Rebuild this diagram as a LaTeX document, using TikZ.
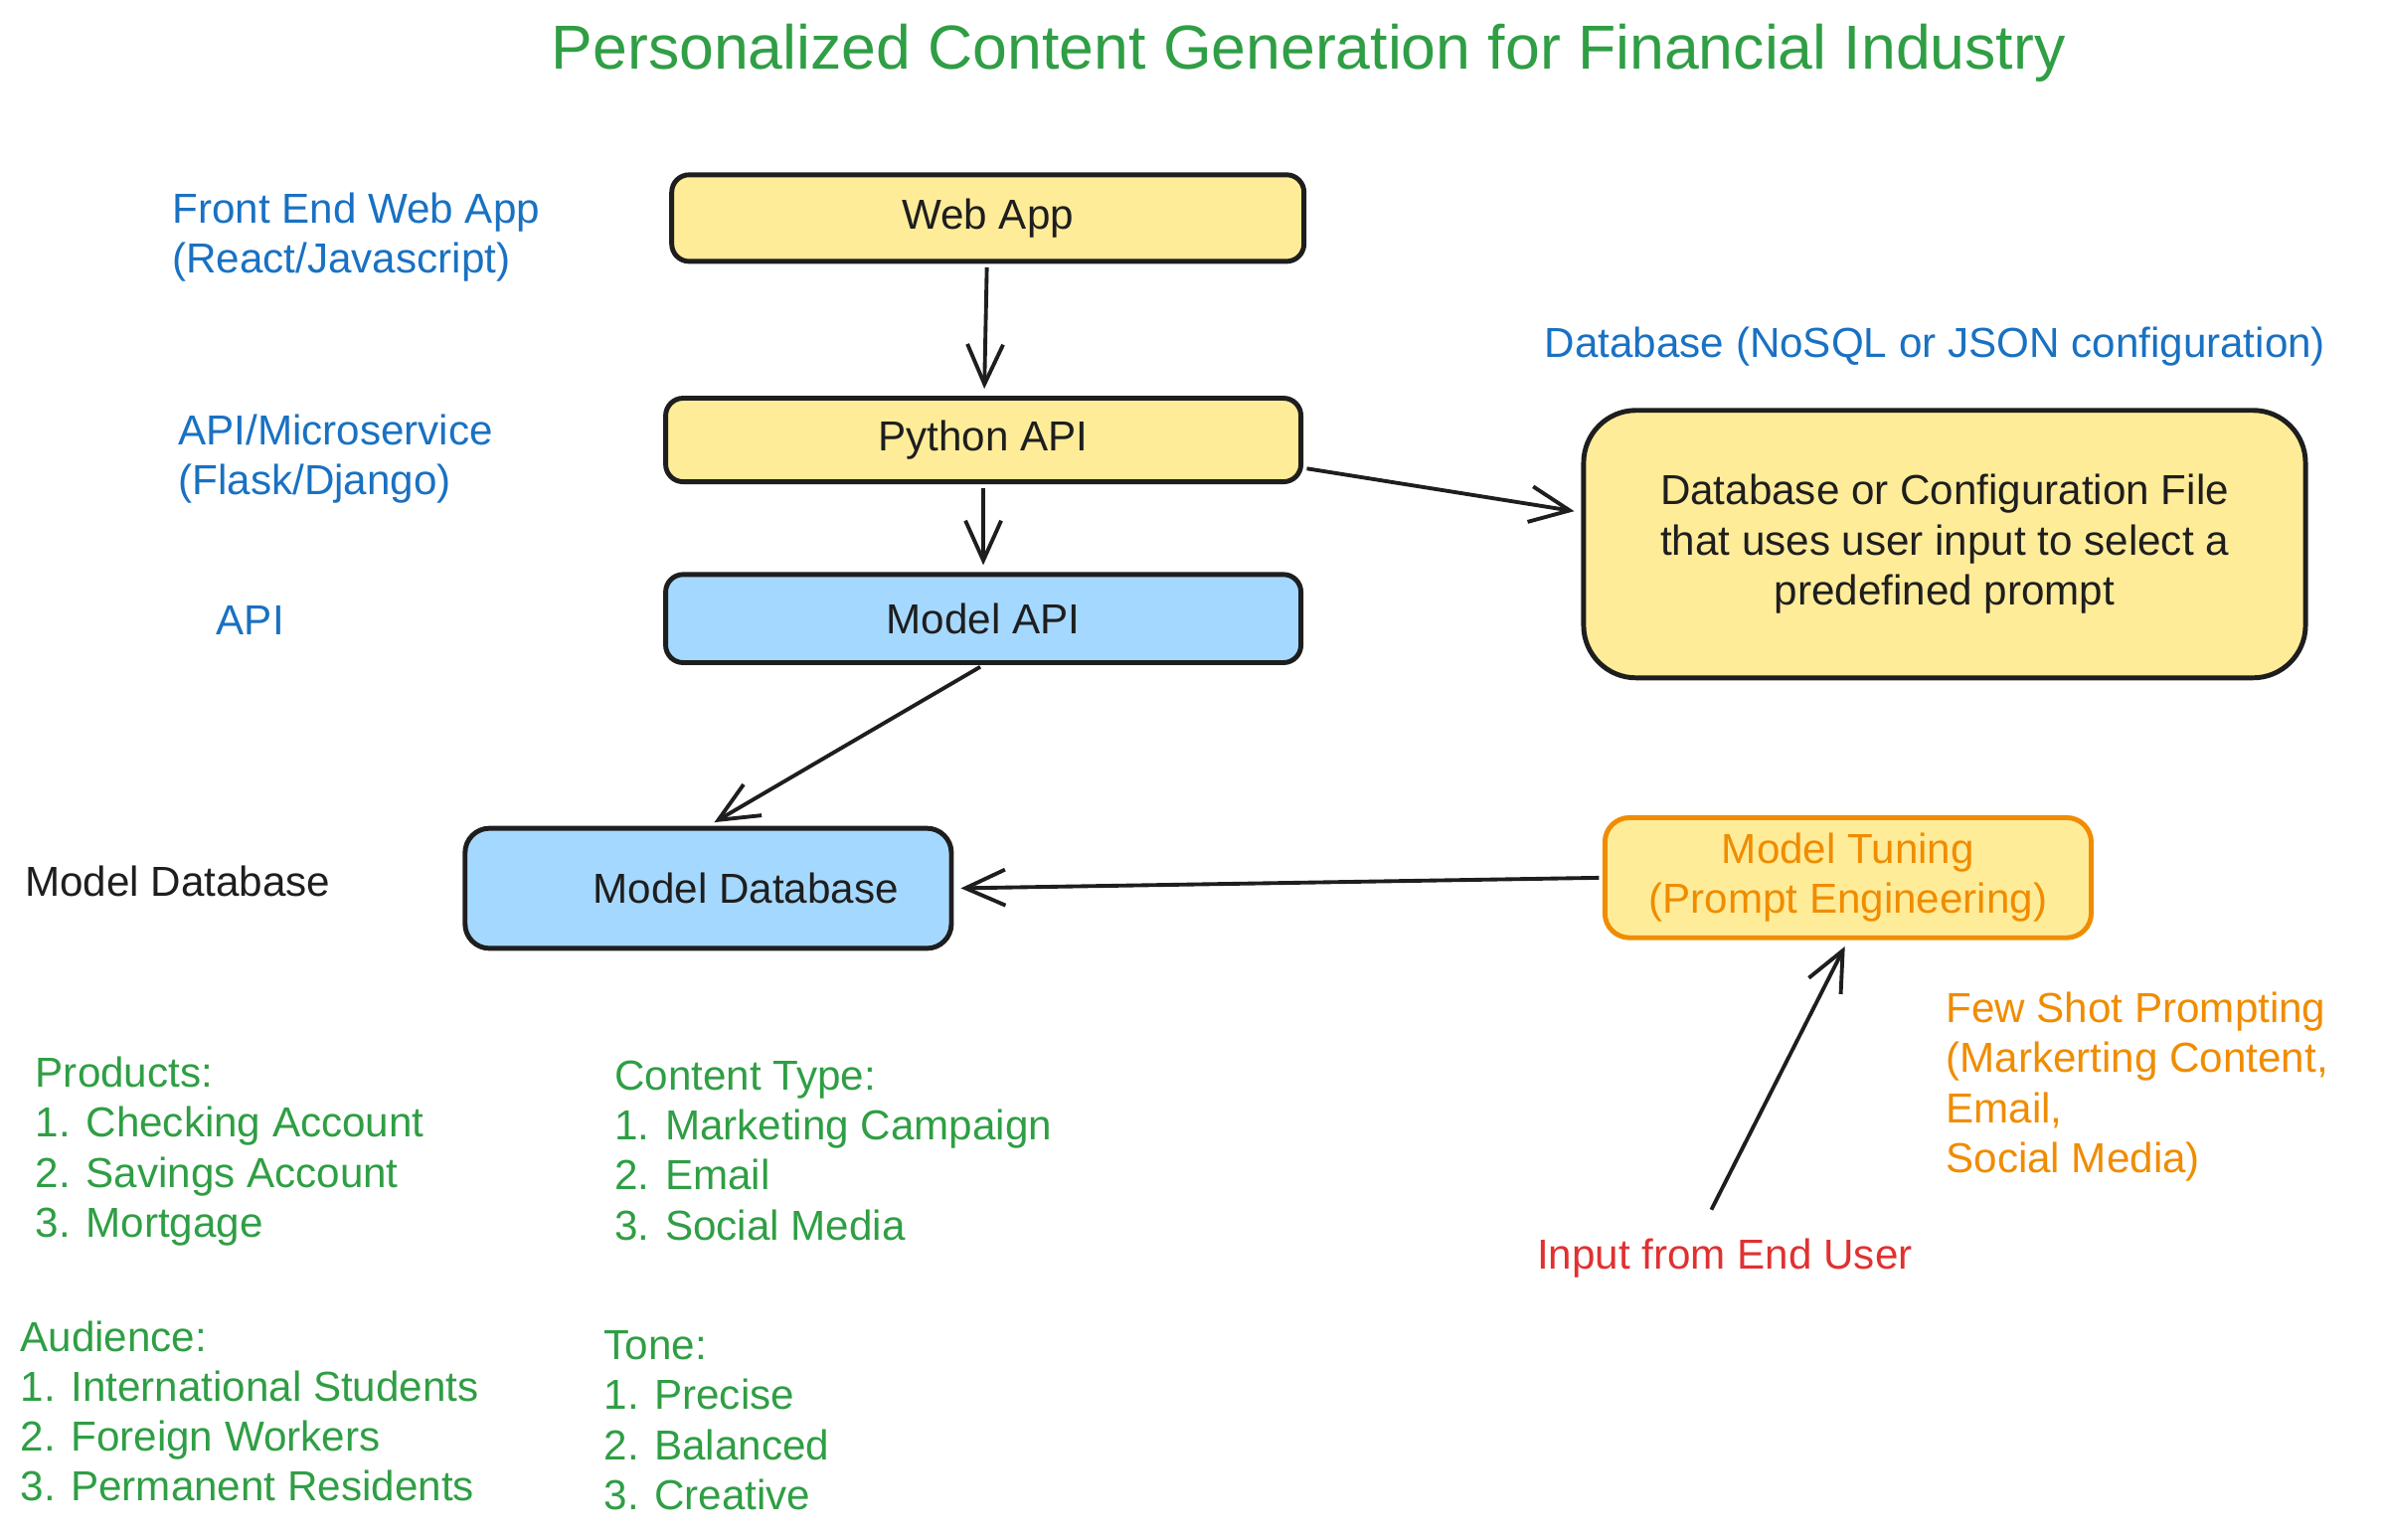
\documentclass[tikz,border=0pt]{standalone}
\usepackage{fontspec}
\setmainfont{Liberation Sans}
\usepackage{xcolor}
\usepackage{tikz}
\usetikzlibrary{positioning,arrows.meta}

\definecolor{boxyellow}{HTML}{FFEC99}
\definecolor{boxblue}{HTML}{A5D8FF}
\definecolor{txtgreen}{HTML}{2F9E44}
\definecolor{txtblue}{HTML}{1971C2}
\definecolor{txtorange}{HTML}{F08C00}
\definecolor{txtred}{HTML}{E03131}
\definecolor{ink}{HTML}{1E1E1E}

\begin{document}
\begin{tikzpicture}[x=0.1529mm,y=-0.1529mm,
  font=\fontsize{12}{14.3}\selectfont,
  box/.style={draw=ink,line width=1.4pt,rounded corners=5pt,fill=boxyellow,text=ink},
  note/.style={anchor=west,align=left,inner sep=0pt},
  arr/.style={draw=ink,line width=1.1pt,-{Straight Barb[length=4mm,width=3.6mm]},shorten <=1pt,shorten >=2pt}]
\useasboundingbox (0,0) rectangle (1568,1013);

% title
\node (title) at (861,35) {\fontsize{17.8}{20}\selectfont\color{txtgreen}Personalized Content Generation for Financial Industry};

% boxes
\node[box,minimum width=416*0.1529mm,minimum height=57*0.1529mm] (webapp) at (650,143.5) {Web App};
\node[box,minimum width=418*0.1529mm,minimum height=55*0.1529mm] (pyapi) at (647,289.5) {Python API};
\node[box,fill=boxblue,minimum width=418*0.1529mm,minimum height=58*0.1529mm] (modelapi) at (647,407) {Model API};
\node[box,fill=boxblue,rounded corners=7pt,minimum width=320*0.1529mm,minimum height=79*0.1529mm] (modeldb) at (466,584.5) {\hspace*{1.8em}Model Database};
\node[box,rounded corners=15pt,align=center,minimum width=475*0.1529mm,minimum height=176*0.1529mm] (dbfile) at (1279.5,358)
  {Database or Configuration File\\that uses user input to select a\\predefined prompt};
\node[box,draw=txtorange,text=txtorange,align=center,rounded corners=7pt,minimum width=320*0.1529mm,minimum height=79*0.1529mm] (tuning) at (1216,577.5)
  {Model Tuning\\(Prompt Engineering)};

% side labels
\node[note,text=txtblue] (frontlbl) at (113,156) {Front End Web App\\(React/Javascript)};
\node[note,text=txtblue] (apilbl) at (117,302) {API/Microservice\\(Flask/Django)};
\node[note,text=txtblue] (modelapilbl) at (142,408) {API};
\node[note,text=ink] (modeldblbl) at (16,580) {Model Database};
\node[note,text=txtblue] (dbfilelbl) at (1016,228) {Database (NoSQL or JSON configuration)};
\node[note,text=txtorange] (fewshot) at (1280,715) {Few Shot Prompting\\(Markerting Content,\\Email,\\Social Media)};
\node[note,text=txtred] (userlbl) at (1011,828) {Input from End User};

% lists
\node[note,text=txtgreen] (products) at (23,757.5) {Products:\\1. Checking Account\\2. Savings Account\\3. Mortgage};
\node[note,text=txtgreen] (contype) at (404,757) {Content Type:\\1. Marketing Campaign\\2. Email\\3. Social Media};
\node[note,text=txtgreen] (audience) at (13,928.5) {Audience:\\1. International Students\\2. Foreign Workers\\3. Permanent Residents};
\node[note,text=txtgreen] (tone) at (397,934.5) {Tone:\\1. Precise\\2. Balanced\\3. Creative};

% arrows
\coordinate (user) at (1125,798);
\draw[arr] (webapp) -- (pyapi);
\draw[arr] (pyapi) -- (modelapi);
\draw[arr] (pyapi.-5) -- (dbfile.175);
\draw[arr] (modelapi.south) -- (modeldb.north);
\draw[arr] (tuning.west) -- (modeldb.east);
\draw[arr] (user) -- (tuning.south);
\end{tikzpicture}
\end{document}
